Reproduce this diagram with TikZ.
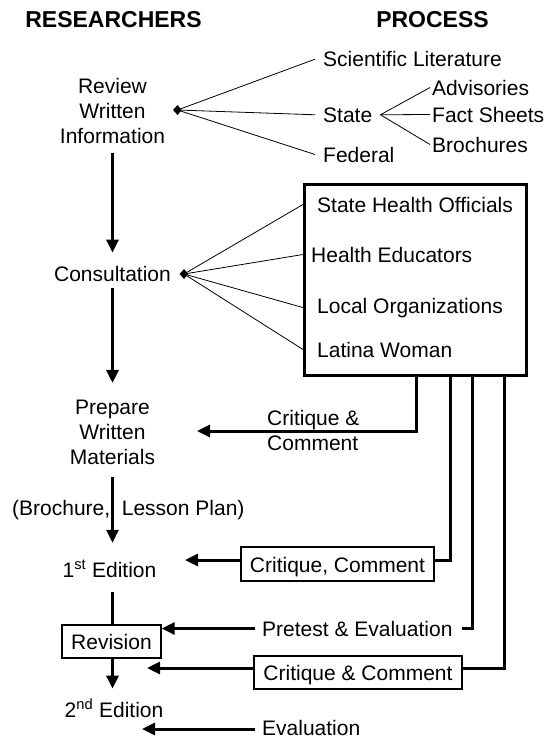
\documentclass[tikz,border=0pt]{standalone}
\usepackage{fontspec}
\setmainfont{Liberation Sans}
\usetikzlibrary{arrows.meta,shapes.geometric,calc}

\begin{document}
\begin{tikzpicture}[x=1pt, y=-1pt,
  every node/.style={font=\fontsize{21}{25}\selectfont, inner sep=2pt},
  head/.style={font=\fontsize{23}{25}\selectfont\bfseries, anchor=base},
  item/.style={anchor=base west},
  thin/.style={line width=0.8pt},
  flow/.style={line width=3pt, -{Triangle[length=13pt,width=12pt]}},
  feed/.style={line width=3pt},
  cbox/.style={draw, line width=1.3pt, text height=16pt, text depth=0pt},
  knot/.style={diamond, fill, inner sep=0pt, minimum width=9pt, minimum height=10pt}]

\useasboundingbox (0,0) rectangle (551,740);

% -------- headings -----------
\node [head] (res)  at (113.5,27) {RESEARCHERS};
\node [head] (proc) at (432.5,27) {PROCESS};

% -------- researchers -----------
\node [align=center] (rwi) at (112.5,110.5) {Review\\Written\\Information};
\node [knot] (rwdot) at (177.5,110) {};
\node [anchor=base] (cons) at (112.5,281) {Consultation};
\node [knot] (cdot) at (184,274) {};
\node [align=center] (prep) at (112.5,432.5) {Prepare\\Written\\Materials};
\node [item, inner sep=0pt] (bl) at (12,515) {(Brochure,\ \ Lesson Plan)};
\node [anchor=base] (ed1) at (109.5,577) {1\textsuperscript{st} Edition};
\node [cbox, minimum width=99pt, minimum height=33pt] (rev) at (111.5,641.5) {Revision};
\node [anchor=base] (ed2) at (114,717) {2\textsuperscript{nd} Edition};

% -------- written sources -----------
\node [item] (sci)   at (321,66.7) {Scientific Literature};
\node [item] (state) at (321,122)  {State};
\node [item] (fed)   at (321,162)  {Federal};
\node [item] (adv)   at (430,95)   {Advisories};
\node [item] (fact)  at (430,122)  {Fact Sheets};
\node [item] (broch) at (430,152)  {Brochures};

% -------- consultants -----------
\node [draw, line width=3pt, minimum width=222pt, minimum height=191pt] (panel) at (415.5,280) {};
\node [item] (sho)  at (315,212) {State Health Officials};
\node [item] (hed)  at (309,262) {Health Educators};
\node [item] (lorg) at (315,313) {Local Organizations};
\node [item] (lat)  at (315,357) {Latina Woman};

% -------- feedback -----------
\node [align=left, anchor=north west] (cac) at (265,408) {Critique \&\\Comment};
\node [cbox, minimum width=193pt, minimum height=34pt] (cc1) at (337.5,564) {Critique, Comment};
\node [item] (pre) at (260,636) {Pretest \& Evaluation};
\node [cbox, minimum width=208pt, minimum height=33pt] (cc2) at (358,672.5) {Critique \& Comment};
\node [item] (eval) at (260,735) {Evaluation};

\coordinate (ptip)  at (197,431);
\coordinate (e1tip) at (185,560);
\coordinate (c2tip) at (147,668);
\coordinate (evtip) at (142,729);

\draw [thin] (rwdot) -- ([xshift=-6pt]sci.west);
\draw [thin] (rwdot) -- ([xshift=-6pt]state.west);
\draw [thin] (rwdot) -- ([xshift=-6pt]fed.west);
\draw [thin] ([xshift=6pt]state.east) -- (adv.west);
\draw [thin] ([xshift=6pt]state.east) -- (fact.west);
\draw [thin] ([xshift=6pt]state.east) -- (broch.west);

\foreach \t in {sho,hed,lorg,lat}
  \draw [thin] (cdot) -- (panel.west |- \t.west);

\draw [flow, shorten <=8pt, shorten >=11pt] (rwi.south) -- (rwi.south |- cons.north);
\draw [flow, shorten <=5pt, shorten >=15pt] (cons.south) -- (cons.south |- prep.north);
\draw [flow, shorten <=10pt, shorten >=15pt] (prep.south) -- (prep.south |- ed1.north);
\draw [feed, shorten <=13pt] (prep.south |- ed1.south) -- (prep.south |- rev.north);
\draw [flow, shorten >=8pt] (prep.south |- rev.south) -- (prep.south |- ed2.north);

\draw [flow] ($(panel.south west)+(113,0)$) |- (ptip);
\draw [feed] ($(panel.south west)+(147,0)$) |- (cc1.east |- e1tip);
\draw [flow] (cc1.west |- e1tip) -- (e1tip);
\draw [feed] ($(panel.south west)+(169,0)$) |- ([xshift=7pt]pre.east);
\draw [flow, shorten <=5pt] (pre.west) -- (pre.west -| rev.east);
\draw [feed] ($(panel.south west)+(201,0)$) |- (cc2.east |- c2tip);
\draw [flow] (cc2.west |- c2tip) -- (c2tip);
\draw [flow, shorten <=5pt] (eval.west |- evtip) -- (evtip);

% -------- end -----------
\end{tikzpicture}
\end{document}
